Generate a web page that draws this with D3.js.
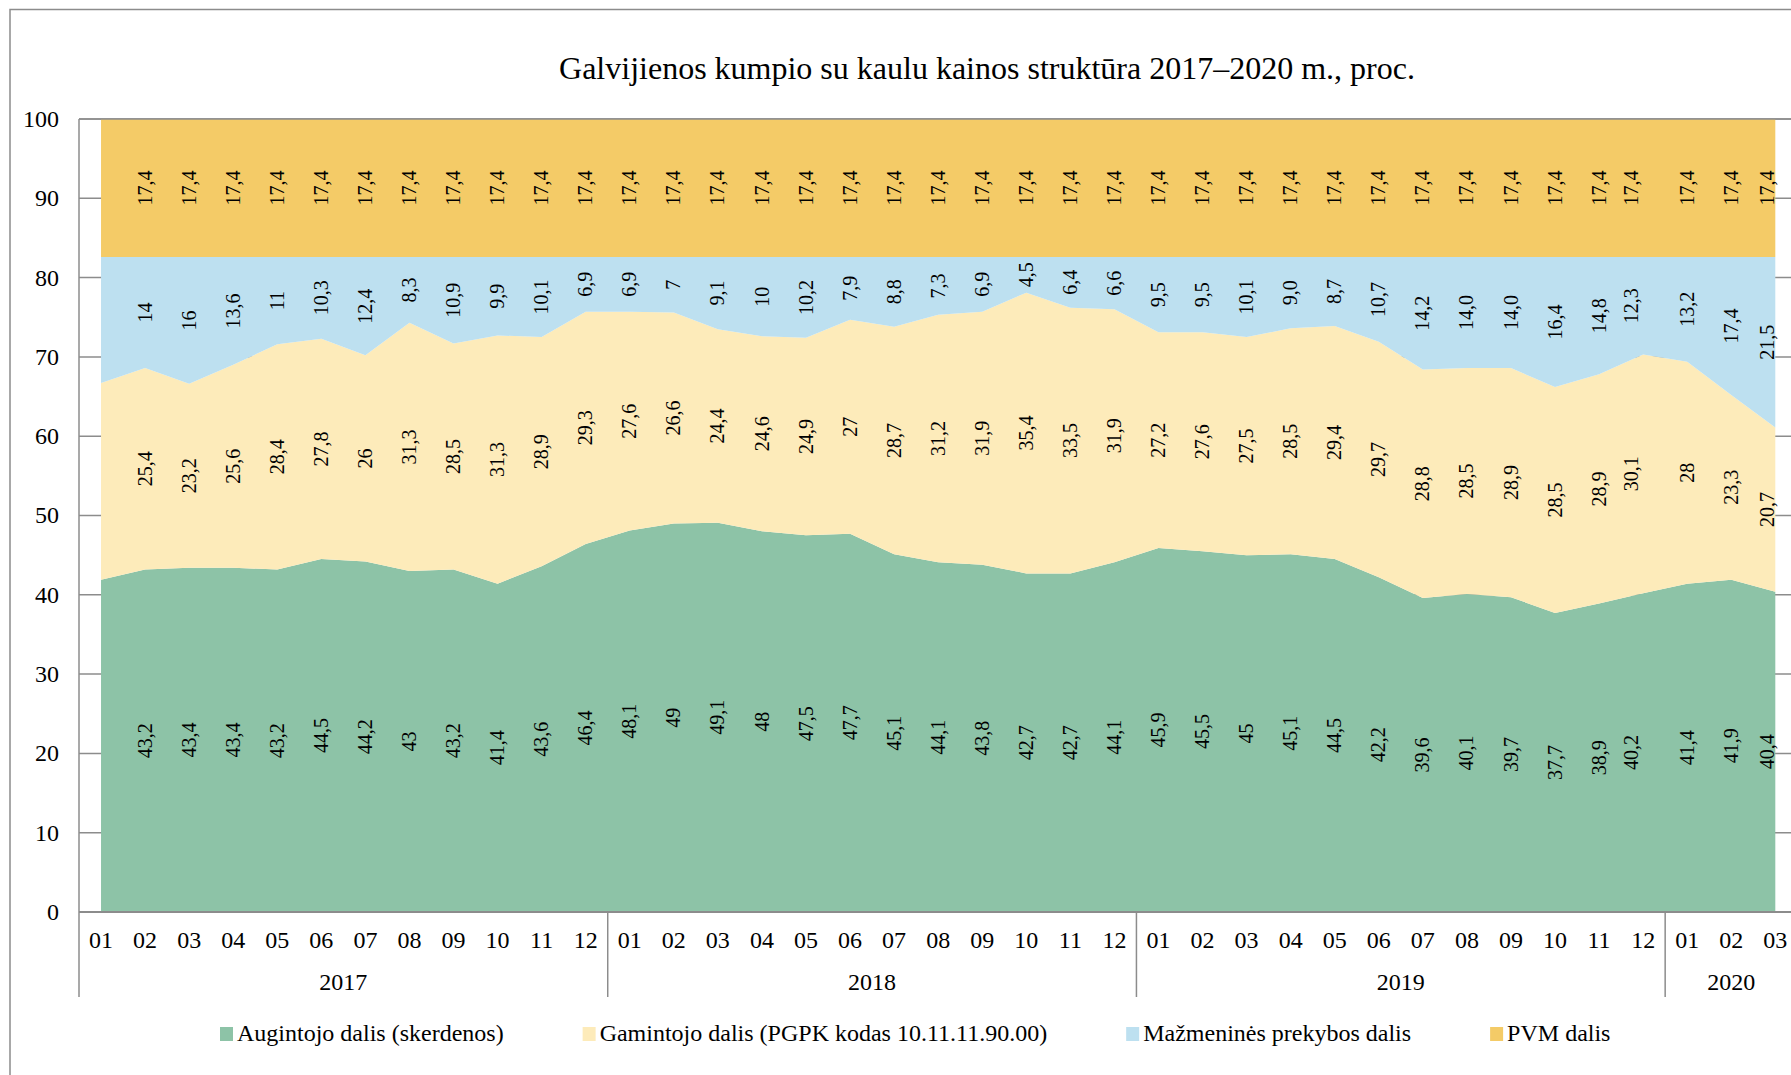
<!DOCTYPE html>
<html>
<head>
<meta charset="utf-8">
<script src="https://cdn.jsdelivr.net/npm/d3@7"></script>
<style>
  body { margin: 0; background: #fff; }
  svg { display: block; font-family: "Liberation Serif", "Times New Roman", serif; }
</style>
</head>
<body>
<div id="chart"></div>
<script>
// categories
var years = ["2017", "2018", "2019", "2020"];
var months = [
  "01", "02", "03", "04", "05", "06", "07", "08", "09", "10", "11", "12",
  "01", "02", "03", "04", "05", "06", "07", "08", "09", "10", "11", "12",
  "01", "02", "03", "04", "05", "06", "07", "08", "09", "10", "11", "12",
  "01", "02", "03"
];

// series values, as printed on the chart (first month has no label)
var augintojo = [
  "41,9", "43,2", "43,4", "43,4", "43,2", "44,5", "44,2", "43", "43,2", "41,4", "43,6", "46,4",
  "48,1", "49", "49,1", "48", "47,5", "47,7", "45,1", "44,1", "43,8", "42,7", "42,7", "44,1",
  "45,9", "45,5", "45", "45,1", "44,5", "42,2", "39,6", "40,1", "39,7", "37,7", "38,9", "40,2",
  "41,4", "41,9", "40,4"
];
var gamintojo = [
  "24,8", "25,4", "23,2", "25,6", "28,4", "27,8", "26", "31,3", "28,5", "31,3", "28,9", "29,3",
  "27,6", "26,6", "24,4", "24,6", "24,9", "27", "28,7", "31,2", "31,9", "35,4", "33,5", "31,9",
  "27,2", "27,6", "27,5", "28,5", "29,4", "29,7", "28,8", "28,5", "28,9", "28,5", "28,9", "30,1",
  "28", "23,3", "20,7"
];
var mazmenine = [
  "15,9", "14", "16", "13,6", "11", "10,3", "12,4", "8,3", "10,9", "9,9", "10,1", "6,9",
  "6,9", "7", "9,1", "10", "10,2", "7,9", "8,8", "7,3", "6,9", "4,5", "6,4", "6,6",
  "9,5", "9,5", "10,1", "9,0", "8,7", "10,7", "14,2", "14,0", "14,0", "16,4", "14,8", "12,3",
  "13,2", "17,4", "21,5"
];
var pvm = [
  "17,4", "17,4", "17,4", "17,4", "17,4", "17,4", "17,4", "17,4", "17,4", "17,4", "17,4", "17,4",
  "17,4", "17,4", "17,4", "17,4", "17,4", "17,4", "17,4", "17,4", "17,4", "17,4", "17,4", "17,4",
  "17,4", "17,4", "17,4", "17,4", "17,4", "17,4", "17,4", "17,4", "17,4", "17,4", "17,4", "17,4",
  "17,4", "17,4", "17,4"
];
var seriesNames = [
  "Augintojo dalis (skerdenos)",
  "Gamintojo dalis (PGPK kodas 10.11.11.90.00)",
  "Mažmeninės prekybos dalis",
  "PVM dalis"
];
var yTicks = [0, 10, 20, 30, 40, 50, 60, 70, 80, 90, 100];

var colors = ["#8dc3a7", "#fdebba", "#bde0f0", "#f4cb67"];
var title = "Galvijienos kumpio su kaulu kainos struktūra 2017–2020 m., proc.";

var W = 1791, H = 1075;
var margin = { top: 119, left: 79, bottom: 912 };
var step = 44.06;
var plotRight = margin.left + months.length * step;

function num(s) {
  return +s.replace(",", ".");
}

var keys = ["a", "g", "m", "p"];
var raw = [augintojo, gamintojo, mazmenine, pvm];
var rows = months.map(function (m, i) {
  return { i: i, a: num(augintojo[i]), g: num(gamintojo[i]), m: num(mazmenine[i]), p: num(pvm[i]) };
});

// year index for every month (a new year starts at "01")
var yearIdx = [];
var yi = -1;
months.forEach(function (m) {
  if (m === "01") yi++;
  yearIdx.push(yi);
});

var svg = d3
  .select("#chart")
  .append("svg")
  .attr("width", W)
  .attr("height", H);

// outer chart border
svg
  .append("rect")
  .attr("x", 10)
  .attr("y", 9.5)
  .attr("width", 1800)
  .attr("height", 1100)
  .attr("fill", "none")
  .style("stroke", "#8c8c8c")
  .style("stroke-width", 1.5);

svg
  .append("text")
  .attr("x", 987)
  .attr("y", 79)
  .attr("text-anchor", "middle")
  .style("font-size", "32px")
  .text(title);

var xScale = d3
  .scaleBand()
  .domain(d3.range(months.length))
  .range([margin.left, plotRight])
  .padding(0);

var xc = function (i) {
  return xScale(i) + xScale.bandwidth() / 2;
};

var yScale = d3.scaleLinear().domain([0, 100]).range([margin.bottom, margin.top]);

// gridlines behind the areas
svg
  .append("g")
  .selectAll("line")
  .data(yTicks.filter(function (d) { return d > 0; }))
  .enter()
  .append("line")
  .attr("x1", margin.left)
  .attr("x2", plotRight)
  .attr("y1", function (d) { return yScale(d); })
  .attr("y2", function (d) { return yScale(d); })
  .style("stroke", "#8c8c8c")
  .style("stroke-width", 1.5);

var stack = d3.stack().keys(keys);
var stacked = stack(rows);

var area = d3
  .area()
  .x(function (d) { return xc(d.data.i); })
  .y0(function (d) { return yScale(d[0]); })
  .y1(function (d) { return yScale(d[1]); });

svg
  .append("g")
  .selectAll("path")
  .data(stacked)
  .enter()
  .append("path")
  .attr("d", area)
  .attr("fill", function (d, i) { return colors[i]; });

// top line over the areas
svg
  .append("line")
  .attr("x1", margin.left)
  .attr("x2", plotRight)
  .attr("y1", yScale(100))
  .attr("y2", yScale(100))
  .style("stroke", "#8c8c8c")
  .style("stroke-width", 1.5);

// data labels, rotated, centred in each band (first month has none)
var nudge = { 35: -12, 38: -8 };
stacked.forEach(function (s, k) {
  svg
    .append("g")
    .selectAll("text")
    .data(s.filter(function (d) { return d.data.i > 0; }))
    .enter()
    .append("text")
    .attr("transform", function (d) {
      var x = xc(d.data.i) + (nudge[d.data.i] || 0);
      var y = yScale((d[0] + d[1]) / 2);
      return "translate(" + x + "," + y + ") rotate(-90)";
    })
    .attr("text-anchor", "middle")
    .attr("dy", "0.33em")
    .style("font-size", "20px")
    .text(function (d) { return raw[k][d.data.i]; });
});

// value axis
var yAxis = svg.append("g");
yAxis
  .append("line")
  .attr("x1", margin.left)
  .attr("x2", margin.left)
  .attr("y1", margin.top)
  .attr("y2", 997)
  .style("stroke", "#8c8c8c")
  .style("stroke-width", 1.5);
yAxis
  .selectAll("text")
  .data(yTicks)
  .enter()
  .append("text")
  .attr("x", 59)
  .attr("y", function (d) { return yScale(d); })
  .attr("dy", "0.33em")
  .attr("text-anchor", "end")
  .style("font-size", "24px")
  .text(function (d) { return d; });

// category axis
var xAxis = svg.append("g");
xAxis
  .append("line")
  .attr("x1", margin.left)
  .attr("x2", plotRight)
  .attr("y1", margin.bottom)
  .attr("y2", margin.bottom)
  .style("stroke", "#8c8c8c")
  .style("stroke-width", 2);

xAxis
  .selectAll(".month")
  .data(months)
  .enter()
  .append("text")
  .attr("class", "month")
  .attr("x", function (d, i) { return xc(i); })
  .attr("y", 948)
  .attr("text-anchor", "middle")
  .style("font-size", "24px")
  .text(function (d) { return d; });

// year groups
var yearSpans = years.map(function (y, k) {
  var idx = d3.range(months.length).filter(function (i) { return yearIdx[i] === k; });
  return { year: y, start: xScale(idx[0]), end: xScale(idx[idx.length - 1]) + xScale.bandwidth() };
});

xAxis
  .selectAll(".sep")
  .data(yearSpans)
  .enter()
  .append("line")
  .attr("class", "sep")
  .attr("x1", function (d) { return d.end; })
  .attr("x2", function (d) { return d.end; })
  .attr("y1", margin.bottom)
  .attr("y2", 997)
  .style("stroke", "#8c8c8c")
  .style("stroke-width", 1.5);

xAxis
  .selectAll(".year")
  .data(yearSpans)
  .enter()
  .append("text")
  .attr("class", "year")
  .attr("x", function (d) { return (d.start + d.end) / 2; })
  .attr("y", 990)
  .attr("text-anchor", "middle")
  .style("font-size", "24px")
  .text(function (d) { return d.year; });

// legend
var legend = svg.append("g").attr("transform", "translate(220,1041)");
var lx = 0;
seriesNames.forEach(function (name, i) {
  var g = legend.append("g").attr("transform", "translate(" + lx + ",0)");
  g.append("rect")
    .attr("x", 0)
    .attr("y", -14)
    .attr("width", 13)
    .attr("height", 14)
    .style("fill", colors[i]);
  var t = g
    .append("text")
    .attr("x", 17)
    .attr("y", 0)
    .style("font-size", "24px")
    .text(name);
  lx += 17 + t.node().getComputedTextLength() + 79;
});
</script>
</body>
</html>
